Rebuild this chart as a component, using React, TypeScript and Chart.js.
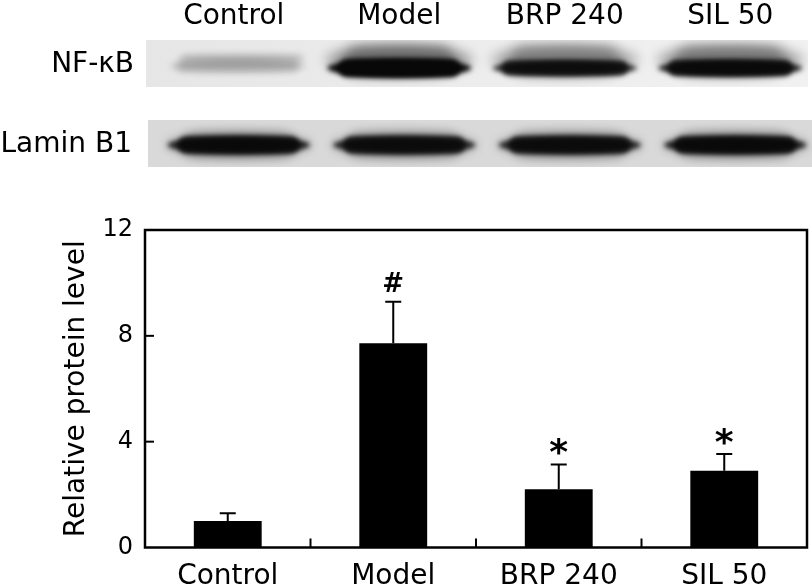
import { useEffect, useRef } from "react";
import { Chart, registerables } from "chart.js";

Chart.register(...registerables);

const FONT = "'DejaVu Sans', Verdana, sans-serif";

const categories = ["Control", "Model", "BRP 240", "SIL 50"];
const proteinLevel = [1.0, 7.72, 2.2, 2.9];
const errorSD = [0.29, 1.57, 0.94, 0.63];
const significance = ["", "#", "*", "*"];
const yTicks = [0, 4, 8, 12];
const blotRows = ["NF-κB", "Lamin B1"];
const nfkbBand = [0.16, 1.0, 0.82, 0.88];
const laminBand = [0.88, 0.84, 0.84, 0.88];

function drawBand(
  ctx: CanvasRenderingContext2D,
  cx: number,
  cy: number,
  w: number,
  h: number,
  alpha: number,
  blur: number
) {
  ctx.save();
  ctx.filter = `blur(${blur}px)`;
  ctx.fillStyle = `rgba(8,8,8,${alpha})`;
  ctx.beginPath();
  ctx.ellipse(cx, cy, w / 2, h / 2, 0, 0, Math.PI * 2);
  ctx.fill();
  ctx.beginPath();
  (ctx as any).roundRect(cx - w / 2 + h * 0.6, cy - h / 2, w - h * 1.2, h, h / 2);
  ctx.fill();
  ctx.restore();
}

const blotPlugin = {
  id: "blot",
  beforeDraw(chart: any) {
    const { ctx, chartArea } = chart;
    const x = chart.scales.x;
    const catW = x.width / categories.length;
    ctx.save();
    // lane labels
    ctx.fillStyle = "#000";
    ctx.font = `28px ${FONT}`;
    ctx.textAlign = "center";
    ctx.textBaseline = "alphabetic";
    categories.forEach((c, i) => {
      ctx.fillText(c, x.getPixelForValue(i) + 6, 24);
    });
    // row labels
    ctx.textAlign = "right";
    ctx.fillText(blotRows[0], chartArea.left - 11, 72);
    ctx.fillText(blotRows[1], chartArea.left - 13, 152);

    // NF-kB membrane
    const nfL = chartArea.left + 1;
    const nfR = chartArea.right + 1;
    const g1 = ctx.createLinearGradient(nfL, 0, nfR, 0);
    g1.addColorStop(0, "#e6e6e6");
    g1.addColorStop(0.5, "#ededed");
    g1.addColorStop(1, "#f1f1f1");
    ctx.fillStyle = g1;
    ctx.fillRect(nfL, 40, nfR - nfL, 47);
    ctx.save();
    ctx.beginPath();
    ctx.rect(nfL, 40, nfR - nfL, 47);
    ctx.clip();
    nfkbBand.forEach((v, i) => {
      const cx = x.getPixelForValue(i) + 6;
      const w = catW * 0.87;
      if (v < 0.4) {
        drawBand(ctx, cx + 8, 58, w * 0.9, 8, v * 0.7, 3);
        drawBand(ctx, cx + 4, 66, w * 0.95, 12, v, 3);
      } else {
        drawBand(ctx, cx, 60, w * 1.02, 30, v * 0.35, 6);
        drawBand(ctx, cx, 68, w, 18 * Math.max(0.8, v), v, 2.5);
      }
    });
    ctx.restore();

    // Lamin B1 membrane
    const lmL = chartArea.left + 3;
    const lmR = chart.width;
    ctx.fillStyle = "#d9d9d9";
    ctx.fillRect(lmL, 120, lmR - lmL, 47);
    ctx.save();
    ctx.beginPath();
    ctx.rect(lmL, 120, lmR - lmL, 47);
    ctx.clip();
    laminBand.forEach((v, i) => {
      const cx = x.getPixelForValue(i) + 11;
      const w = catW * 0.86;
      drawBand(ctx, cx, 145, w * 1.02, 26, v * 0.3, 5);
      drawBand(ctx, cx, 145, w, 17, v, 2.5);
    });
    ctx.restore();
    ctx.restore();
  },
  afterDatasetsDraw(chart: any) {
    const { ctx, chartArea } = chart;
    const x = chart.scales.x;
    const y = chart.scales.y;
    ctx.save();
    ctx.strokeStyle = "#000";
    ctx.fillStyle = "#000";
    // error bars
    ctx.lineWidth = 2;
    proteinLevel.forEach((v, i) => {
      const cx = x.getPixelForValue(i);
      const y0 = y.getPixelForValue(v);
      const y1 = y.getPixelForValue(v + errorSD[i]);
      ctx.beginPath();
      ctx.moveTo(cx, y0);
      ctx.lineTo(cx, y1);
      ctx.moveTo(cx - 8, y1);
      ctx.lineTo(cx + 8, y1);
      ctx.stroke();
      const s = significance[i];
      if (s) {
        ctx.font = s === "*" ? `bold 36px ${FONT}` : `bold 26px ${FONT}`;
        ctx.textAlign = "center";
        ctx.textBaseline = "alphabetic";
        const m = ctx.measureText(s);
        const asc = m.actualBoundingBoxAscent;
        const desc = m.actualBoundingBoxDescent;
        const centerY = y1 - (s === "*" ? 17.5 : 20);
        ctx.fillText(s, cx, centerY + (asc - desc) / 2);
      }
    });
    // frame
    ctx.lineWidth = 2.5;
    ctx.strokeRect(chartArea.left, chartArea.top, chartArea.right - chartArea.left, chartArea.bottom - chartArea.top);
    // inner ticks
    ctx.lineWidth = 2;
    yTicks.forEach((t) => {
      if (t === 0 || t === yTicks[yTicks.length - 1]) return;
      const py = y.getPixelForValue(t);
      ctx.beginPath();
      ctx.moveTo(chartArea.left, py);
      ctx.lineTo(chartArea.left + 9, py);
      ctx.stroke();
    });
    for (let i = 0; i < categories.length - 1; i++) {
      const px = (x.getPixelForValue(i) + x.getPixelForValue(i + 1)) / 2;
      ctx.beginPath();
      ctx.moveTo(px, chartArea.bottom);
      ctx.lineTo(px, chartArea.bottom - 9);
      ctx.stroke();
    }
    ctx.restore();
  },
};

export default function App() {
  const ref = useRef<HTMLCanvasElement | null>(null);
  useEffect(() => {
    if (!ref.current) return;
    const chart = new Chart(ref.current, {
      type: "bar",
      data: {
        labels: categories,
        datasets: [
          {
            data: proteinLevel,
            backgroundColor: "#000",
            borderWidth: 0,
            barPercentage: 0.41,
            categoryPercentage: 1,
          },
        ],
      },
      options: {
        responsive: false,
        animation: false,
        layout: { padding: { top: 230, right: 5, left: 0, bottom: 0 } },
        plugins: { legend: { display: false }, tooltip: { enabled: false } },
        scales: {
          x: {
            grid: { display: false, drawTicks: false },
            border: { display: false },
            ticks: {
              color: "#000",
              font: { family: FONT, size: 28 },
              padding: 12,
              autoSkip: false,
              maxRotation: 0,
            },
            afterFit: (s: any) => {
              s.height = 40.5;
            },
          },
          y: {
            min: 0,
            max: 12,
            grid: { display: false, drawTicks: false },
            border: { display: false },
            ticks: {
              color: "#000",
              font: { family: FONT, size: 24 },
              padding: 12,
            },
            afterBuildTicks: (s: any) => {
              s.ticks = yTicks.map((v) => ({ value: v }));
            },
            afterFit: (s: any) => {
              s.width = 145;
            },
            title: {
              display: true,
              text: "Relative protein level",
              color: "#000",
              font: { family: FONT, size: 28 },
              padding: { top: 60, bottom: 0 },
            },
          },
        },
      },
      plugins: [blotPlugin],
    });
    return () => chart.destroy();
  }, []);
  return (
    <div style={{ position: "absolute", left: 0, top: 0, width: 812, height: 588, background: "#fff" }}>
      <canvas ref={ref} width={812} height={588} />
    </div>
  );
}
